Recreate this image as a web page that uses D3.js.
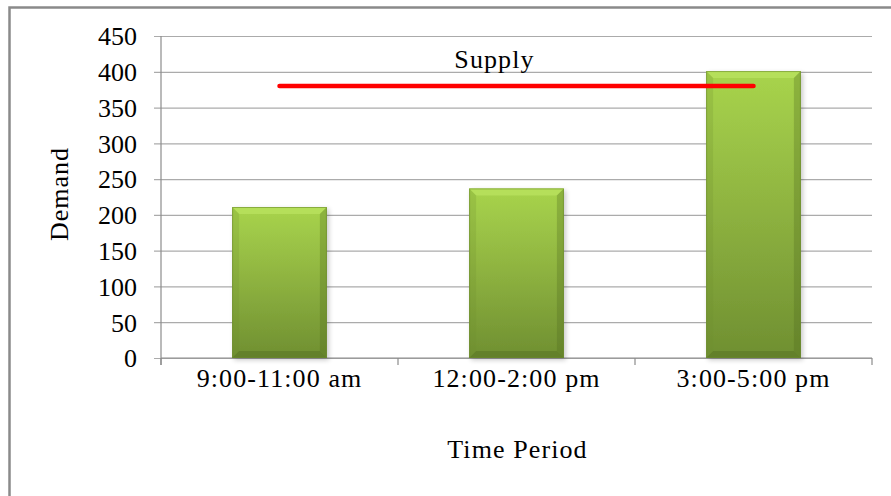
<!DOCTYPE html>
<html>
<head>
<meta charset="utf-8">
<script src="https://cdn.jsdelivr.net/npm/d3@7"></script>
<style>
  html, body { margin: 0; padding: 0; background: #fff; }
  svg { display: block; }
  text { font-family: "Liberation Serif", "Times New Roman", serif; fill: #000; }
</style>
</head>
<body>
<svg id="chart" width="891" height="496"></svg>
<script>
// Demand per time period, with the available supply level
const categories = ["9:00-11:00 am", "12:00-2:00 pm", "3:00-5:00 pm"];
const demand = [211, 237, 401];
const supply = [380, 380, 380];
const yTicks = [0, 50, 100, 150, 200, 250, 300, 350, 400, 450];
const yLabel = "Demand";
const xLabel = "Time Period";
const supplyLabel = "Supply";

const svg = d3.select("#chart");
const W = 891, H = 496;
const plot = { left: 161, right: 872, top: 36, bottom: 358 };

// chart frame (runs off the right and bottom edges)
svg.append("rect")
  .attr("x", 9.5).attr("y", 7.5)
  .attr("width", W + 20).attr("height", H + 20)
  .attr("fill", "#fff")
  .attr("stroke", "#8a8a8a").attr("stroke-width", 2.5);

const x = d3.scaleBand().domain(categories).range([plot.left, plot.right]).paddingInner(0).paddingOuter(0);
const y = d3.scaleLinear().domain([0, 450]).range([plot.bottom, plot.top]);

const defs = svg.append("defs");
const grad = defs.append("linearGradient").attr("id", "barFill")
  .attr("x1", 0).attr("y1", 0).attr("x2", 0).attr("y2", 1);
grad.append("stop").attr("offset", "0%").attr("stop-color", "#a8d44c");
grad.append("stop").attr("offset", "45%").attr("stop-color", "#90b541");
grad.append("stop").attr("offset", "100%").attr("stop-color", "#6f8f31");

const shadow = defs.append("filter").attr("id", "barShadow")
  .attr("x", "-20%").attr("y", "-10%").attr("width", "140%").attr("height", "125%");
shadow.append("feGaussianBlur").attr("in", "SourceAlpha").attr("stdDeviation", 2.5).attr("result", "b");
shadow.append("feOffset").attr("in", "b").attr("dx", 2).attr("dy", 2).attr("result", "o");
shadow.append("feComponentTransfer").attr("in", "o").attr("result", "s")
  .append("feFuncA").attr("type", "linear").attr("slope", 0.22);
const fm = shadow.append("feMerge");
fm.append("feMergeNode").attr("in", "s");
fm.append("feMergeNode").attr("in", "SourceGraphic");

// horizontal gridlines + y axis ticks
const yAxis = d3.axisLeft(y).tickValues(yTicks).tickSize(-(plot.right - plot.left)).tickPadding(0).tickFormat(d3.format("d"));
const gy = svg.append("g").attr("transform", `translate(${plot.left},0)`).call(yAxis);
gy.select(".domain").remove();
gy.selectAll(".tick line")
  .attr("x1", -7)
  .attr("stroke", "#ababab").attr("stroke-width", 1.2);
gy.selectAll(".tick text")
  .attr("x", -24).attr("dy", "0.34em")
  .style("font-size", "26px");

// vertical axis line
svg.append("line")
  .attr("x1", plot.left).attr("x2", plot.left)
  .attr("y1", plot.top).attr("y2", plot.bottom + 7)
  .attr("stroke", "#8c8c8c").attr("stroke-width", 1.2);

// category axis
const xb = [plot.left, ...categories.map(c => x(c) + x.bandwidth())];
svg.selectAll(".xtick").data(xb).join("line")
  .attr("class", "xtick")
  .attr("x1", d => d).attr("x2", d => d)
  .attr("y1", plot.bottom).attr("y2", plot.bottom + 7)
  .attr("stroke", "#8c8c8c").attr("stroke-width", 1.2);
svg.append("line")
  .attr("x1", plot.left).attr("x2", plot.right)
  .attr("y1", plot.bottom).attr("y2", plot.bottom)
  .attr("stroke", "#8c8c8c").attr("stroke-width", 1.2);

svg.selectAll(".xlab").data(categories).join("text")
  .attr("class", "xlab")
  .attr("x", d => x(d) + x.bandwidth() / 2)
  .attr("y", 387)
  .attr("text-anchor", "middle")
  .style("font-size", "26px")
  .style("letter-spacing", "1.1px")
  .text(d => d);

// bars with bevelled edges
const bw = x.bandwidth() * 0.40;
const bev = 7;
const bars = svg.selectAll(".bar").data(categories.map((c, i) => ({ c, v: demand[i] })))
  .join("g").attr("class", "bar");
bars.each(function (d) {
  const g = d3.select(this);
  const x0 = x(d.c) + (x.bandwidth() - bw) / 2, x1 = x0 + bw;
  const y0 = y(d.v), y1 = y(0);
  g.append("rect")
    .attr("x", x0).attr("y", y0).attr("width", bw).attr("height", y1 - y0)
    .attr("fill", "url(#barFill)").attr("filter", "url(#barShadow)");
  const poly = (pts, fill, op) => g.append("polygon")
    .attr("points", pts.map(p => p.join(",")).join(" "))
    .attr("fill", fill).attr("fill-opacity", op);
  poly([[x0, y0], [x1, y0], [x1 - bev, y0 + bev], [x0 + bev, y0 + bev]], "#c4ec6a", 0.5);
  poly([[x0, y1], [x1, y1], [x1 - bev, y1 - bev], [x0 + bev, y1 - bev]], "#4f6a1e", 0.4);
  poly([[x0, y0], [x0 + bev, y0 + bev], [x0 + bev, y1 - bev], [x0, y1]], "#6d8f2c", 0.22);
  poly([[x1, y0], [x1 - bev, y0 + bev], [x1 - bev, y1 - bev], [x1, y1]], "#4f6a1e", 0.3);
  g.append("rect")
    .attr("x", x0 + 0.5).attr("y", y0 + 0.5).attr("width", bw - 1).attr("height", y1 - y0 - 1)
    .attr("fill", "none").attr("stroke", "#6a8a2c").attr("stroke-width", 1).attr("stroke-opacity", 0.6);
});

// supply line
const line = d3.line()
  .x((d, i) => x(categories[i]) + x.bandwidth() / 2)
  .y(d => y(d));
svg.append("path")
  .datum(supply)
  .attr("d", line)
  .attr("fill", "none")
  .attr("stroke", "#ff0000")
  .attr("stroke-width", 4.5)
  .attr("stroke-linecap", "round");

svg.append("text")
  .attr("x", x(categories[1]) + x.bandwidth() / 2 - 22)
  .attr("y", y(supply[1]) - 18)
  .attr("text-anchor", "middle")
  .style("font-size", "26px")
  .style("letter-spacing", "1.1px")
  .text(supplyLabel);

// axis titles
svg.append("text")
  .attr("transform", `translate(68,194) rotate(-90)`)
  .attr("text-anchor", "middle")
  .style("font-size", "26px")
  .style("letter-spacing", "1px")
  .text(yLabel);
svg.append("text")
  .attr("x", (plot.left + plot.right) / 2 + 1)
  .attr("y", 458)
  .attr("text-anchor", "middle")
  .style("font-size", "26px")
  .style("letter-spacing", "1.1px")
  .text(xLabel);
</script>
</body>
</html>
